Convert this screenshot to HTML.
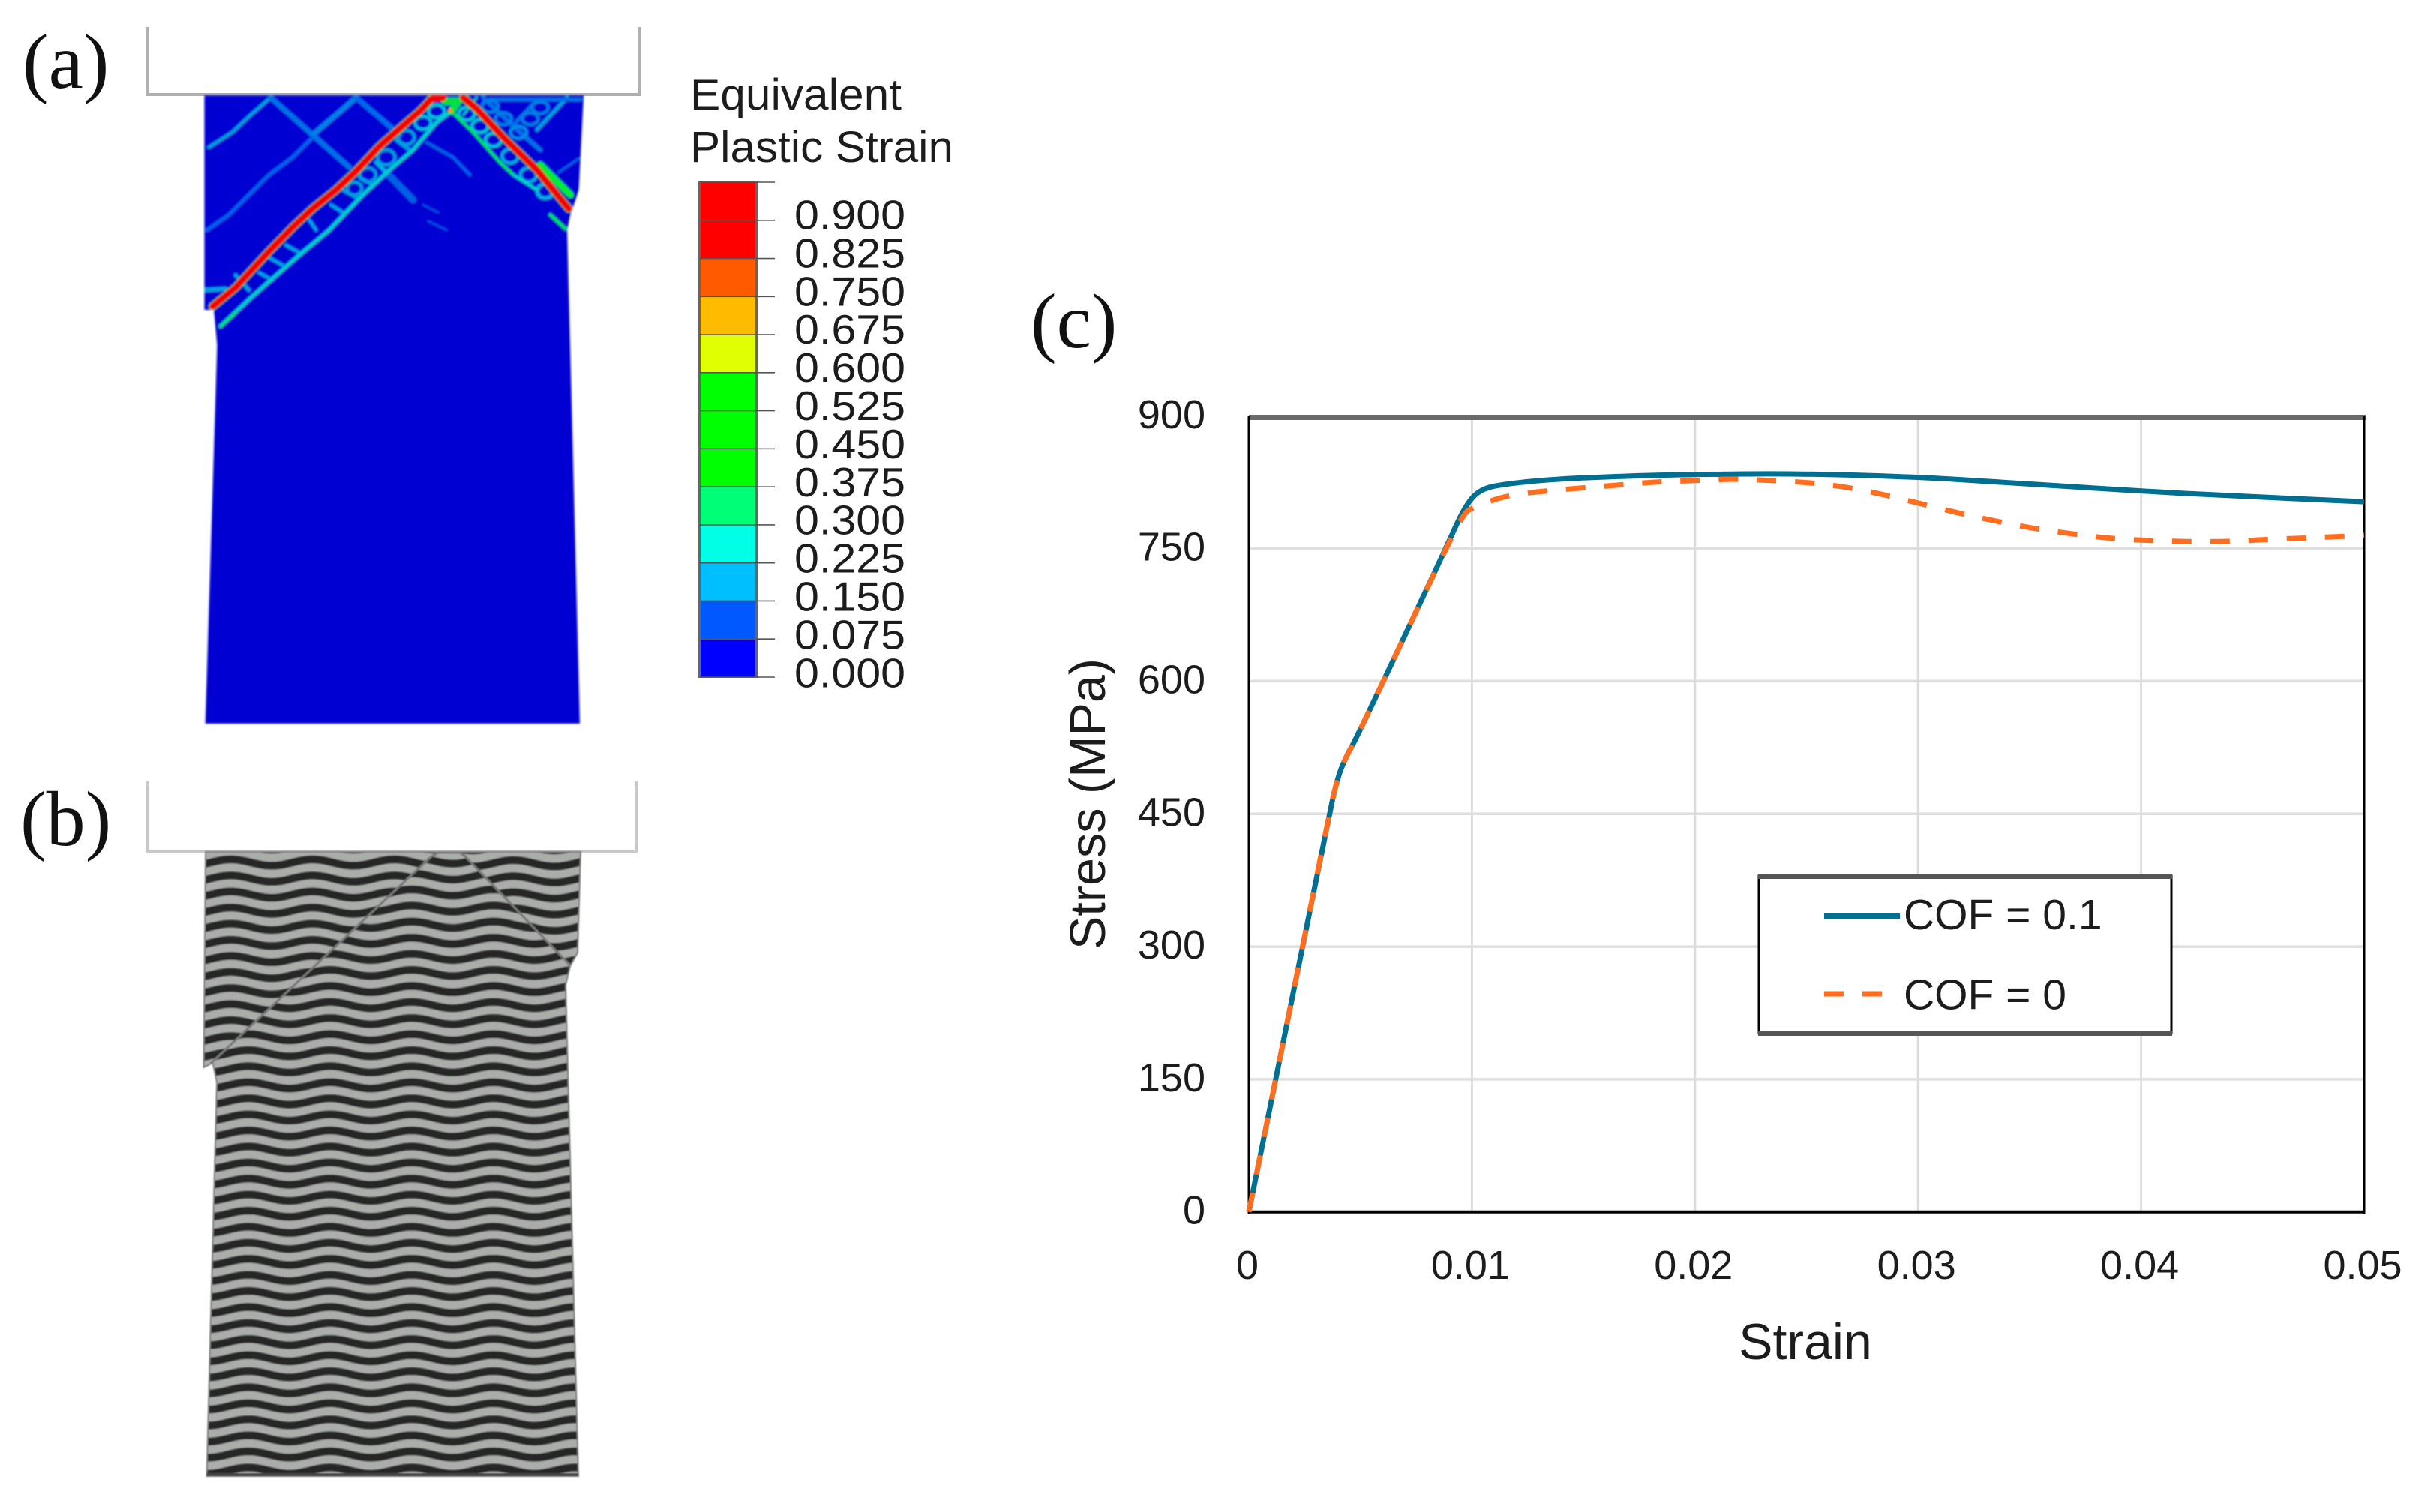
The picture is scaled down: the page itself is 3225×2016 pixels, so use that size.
<!DOCTYPE html>
<html lang="en">
<head>
<meta charset="utf-8">
<title>Equivalent plastic strain and stress-strain curves</title>
<style>
html,body{margin:0;padding:0;background:#fff;width:3225px;height:2016px;overflow:hidden}
svg{display:block}
text{font-family:"Liberation Sans",sans-serif;fill:#1c1c1c}
.panel{font-family:"Liberation Serif",serif;font-size:104px;fill:#111}
.band{fill:none;stroke-linejoin:round;stroke-linecap:round;vector-effect:non-scaling-stroke}
</style>
</head>
<body>
<svg id="figure" xmlns="http://www.w3.org/2000/svg" width="3225" height="2016" viewBox="0 0 3225 2016">
<defs>
<filter id="soft" x="-5%" y="-5%" width="110%" height="110%"><feGaussianBlur stdDeviation="1.3"/></filter>
<filter id="soft2" x="-5%" y="-5%" width="110%" height="110%"><feGaussianBlur stdDeviation="0.7"/></filter>
<clipPath id="clip-left"><polygon points="274,1137 584,1137 574,1143 280.5,1418 271.5,1423"/></clipPath>
<clipPath id="clip-right"><polygon points="613,1137 774,1137 770,1270 760,1288 620,1142"/></clipPath>
<clipPath id="clip-center"><polygon points="584,1137 613,1137 620,1142 760,1288 754,1313 771,1968 275.5,1968 289,1443 283.6,1417 280.5,1418 574,1143"/></clipPath>
<clipPath id="clip-a"><polygon points="272.4,127 778,127 771.5,253 767,267 760,287 756,307 773,965 273.6,965 289.4,460 285,413 272.4,413"/></clipPath>
</defs>

<!-- Panel (a) -->
<text class="panel" x="30" y="117">(a)</text>
<path d="M196,36V126H852V36" fill="none" stroke="#b0b0b0" stroke-width="4"/>
<g filter="url(#soft)">
<polygon points="272.4,127 778,127 771.5,253 767,267 760,287 756,307 773,965 273.6,965 289.4,460 285,413 272.4,413" fill="#0000d2"/>
<g clip-path="url(#clip-a)">
<g transform="translate(180 20) scale(.4464 .3333)">
<!-- faint bands -->
<polyline class="band" stroke="#00a0dc" stroke-width="4.5" points="220,530 290,470 345,400 400,335"/>
<polyline class="band" stroke="#0070e8" stroke-width="7" points="405,330 530,480 640,610"/>
<polyline class="band" stroke="#0080e8" stroke-width="7" points="530,480 600,400 660,330"/>
<polyline class="band" stroke="#0068ee" stroke-width="7" points="660,330 730,410 790,480"/>
<polyline class="band" stroke="#0060f0" stroke-width="5" points="215,860 280,800 400,640 470,570 530,490"/>
<polyline class="band" stroke="#0060e4" stroke-width="9" points="750,630 830,740"/>
<polyline class="band" stroke="#0050e8" stroke-width="2.5" points="860,760 905,790"/>
<polyline class="band" stroke="#0050e8" stroke-width="2.5" points="875,825 930,860"/>
<polyline class="band" stroke="#0060e8" stroke-width="4" points="870,510 950,570 1000,640"/>
<polyline class="band" stroke="#00a0e0" stroke-width="5" points="1200,460 1290,330"/>
<polyline class="band" stroke="#0070e8" stroke-width="6" points="1040,330 1150,470 1210,540"/>
<polyline class="band" stroke="#0070e8" stroke-width="5" points="1130,440 1200,340"/>
<polyline class="band" stroke="#0070e8" stroke-width="5" points="1060,338 1330,338"/>
<polyline class="band" stroke="#0060e8" stroke-width="3" points="1265,630 1325,575"/>
<polyline class="band" stroke="#00a0e0" stroke-width="6" points="205,1100 270,1095"/>
<polyline class="band" stroke="#00a0e0" stroke-width="5" points="300,1040 340,1100"/>
<!-- ladder cells -->
<polyline class="band" stroke="#00a0e8" stroke-width="4.5" points="370,1030 410,1060"/>
<polyline class="band" stroke="#00a0e8" stroke-width="4.5" points="400,970 440,1000"/>
<polyline class="band" stroke="#00a0e8" stroke-width="4.5" points="450,920 490,950"/>
<polyline class="band" stroke="#00a0e8" stroke-width="4.5" points="520,820 540,860"/>
<polyline class="band" stroke="#00a0e8" stroke-width="4.5" points="585,760 620,790"/>
<polyline class="band" stroke="#00a0e8" stroke-width="4.5" points="620,700 660,730"/>
<polyline class="band" stroke="#00a0e8" stroke-width="4.5" points="670,650 710,680"/>
<polyline class="band" stroke="#00b4e8" stroke-width="5" points="720,590 750,630"/>
<polyline class="band" stroke="#00a0e8" stroke-width="5" points="780,500 820,540"/>
<ellipse class="band" stroke="#00c0e0" stroke-width="4" cx="860" cy="432" rx="24" ry="26"/>
<ellipse class="band" stroke="#00c8d8" stroke-width="4" cx="900" cy="385" rx="24" ry="26"/>
<ellipse class="band" stroke="#00c8d8" stroke-width="4" cx="990" cy="395" rx="24" ry="26"/>
<ellipse class="band" stroke="#00c8d8" stroke-width="4" cx="1030" cy="445" rx="24" ry="26"/>
<ellipse class="band" stroke="#00c8d8" stroke-width="4" cx="1070" cy="500" rx="24" ry="26"/>
<ellipse class="band" stroke="#00b0e0" stroke-width="4" cx="1120" cy="565" rx="24" ry="28"/>
<ellipse class="band" stroke="#00b0e0" stroke-width="4" cx="1175" cy="640" rx="24" ry="28"/>
<ellipse class="band" stroke="#00b0e0" stroke-width="5" cx="1225" cy="705" rx="24" ry="28"/>
<ellipse class="band" stroke="#0080e8" stroke-width="4" cx="1060" cy="365" rx="24" ry="24"/>
<ellipse class="band" stroke="#0080e8" stroke-width="4" cx="1100" cy="415" rx="24" ry="24"/>
<ellipse class="band" stroke="#0080e8" stroke-width="4" cx="1180" cy="415" rx="24" ry="24"/>
<ellipse class="band" stroke="#0080e8" stroke-width="4" cx="1210" cy="370" rx="24" ry="24"/>
<ellipse class="band" stroke="#0090e8" stroke-width="4" cx="1145" cy="470" rx="24" ry="24"/>
<ellipse class="band" stroke="#00a0e0" stroke-width="4" cx="810" cy="490" rx="24" ry="28"/>
<ellipse class="band" stroke="#00a0e0" stroke-width="4" cx="750" cy="570" rx="26" ry="30"/>
<ellipse class="band" stroke="#00a0e0" stroke-width="4" cx="695" cy="640" rx="24" ry="28"/>
<ellipse class="band" stroke="#00a0e0" stroke-width="4" cx="655" cy="695" rx="22" ry="26"/>
<!-- parallel secondary bands -->
<polyline class="band" stroke="#00cfd0" stroke-width="5" points="255,1245 350,1125 490,960 580,860 680,720 760,620 830,540 900,430 945,385"/>
<polyline class="band" stroke="#00e080" stroke-width="4.5" points="255,1245 300,1190"/>
<polyline class="band" stroke="#00e650" stroke-width="4" points="945,385 1010,470 1090,590 1130,640"/>
<polyline class="band" stroke="#00d8c0" stroke-width="4" points="1130,640 1200,700"/>
<polyline class="band" stroke="#00e640" stroke-width="4.5" points="1240,800 1285,855"/>
<polyline class="band" stroke="#00ee30" stroke-width="9" points="1210,600 1300,720"/>
<polyline class="band" stroke="#00e040" stroke-width="10" points="925,345 965,345 945,385"/>
<polyline class="band" stroke="#00c8c8" stroke-width="3" points="1020,330 980,400"/>
<!-- main shear bands -->
<polyline class="band" stroke="#38c048" stroke-width="11" points="232,1165 300,1090 400,945 470,850 530,775 600,700 660,625 730,525 790,455 850,385 885,335"/>
<polyline class="band" stroke="#38c048" stroke-width="11" points="980,330 1020,375 1100,490 1200,620 1295,775"/>
<polyline class="band" stroke="#f40000" stroke-width="9" points="232,1165 300,1090 400,945 470,850 530,775 600,700 660,625 730,525 790,455 850,385 885,335 920,330"/>
<polyline class="band" stroke="#f40000" stroke-width="9" points="980,330 1020,375 1100,490 1200,620 1295,775"/>
<polyline class="band" stroke="#ff9000" stroke-width="5" points="940,380 942,384"/>
</g>
</g>
</g>

<!-- Colorbar -->
<text x="920" y="146" font-size="58" textLength="282" lengthAdjust="spacingAndGlyphs">Equivalent</text>
<text x="920" y="216" font-size="58" textLength="351" lengthAdjust="spacingAndGlyphs">Plastic Strain</text>
<g id="colorbar"></g>

<!-- Panel (b) -->
<text class="panel" x="27" y="1127">(b)</text>
<path d="M197,1042V1135H848V1042" fill="none" stroke="#c8c8c8" stroke-width="4"/>
<g filter="url(#soft2)">
<polygon points="274,1135 774,1135 770,1270 760,1288 754,1313 771,1968 275.5,1968 289,1443 283.6,1417 271.5,1423" fill="#aaada9"/>
<g clip-path="url(#clip-left)"><path id="stripes-left" fill="none"/></g>
<g clip-path="url(#clip-right)"><path id="stripes-right" fill="none"/></g>
<g clip-path="url(#clip-center)"><path id="stripes-center" fill="none"/></g>
<polyline points="280.5,1418 574,1143 584,1137 613,1137 620,1142 760,1287" fill="none" stroke="#777" stroke-width="3"/>
<polygon points="274,1136 774,1136 770,1270 760,1288 754,1313 771,1968 275.5,1968 289,1443 283.6,1417 271.5,1423" fill="none" stroke="#808080" stroke-width="2"/>
<rect x="275.5" y="1964" width="495.5" height="4" fill="#444"/>
</g>

<!-- Panel (c) -->
<text class="panel" x="1374" y="463">(c)</text>
<g id="chart"></g>
</svg>

<script>
// Chart data
var strainTicks = [0, 0.01, 0.02, 0.03, 0.04, 0.05];
var stressTicks = [0, 150, 300, 450, 600, 750, 900];
var cof01Strain = [0, 0.00029, 0.00354, 0.00397, 0.0044, 0.00476, 0.00879, 0.00948, 0.00999, 0.0105, 0.0112, 0.01325, 0.01667, 0.01994, 0.0247, 0.03, 0.03355, 0.04, 0.0442, 0.05];
var cof01Stress = [0, 36, 442, 491, 517, 532, 748, 787, 808, 817.6, 822, 828, 832, 834, 835, 831, 825.5, 815, 809.5, 803];
var cof0Strain = [0, 0.00029, 0.00354, 0.00397, 0.0044, 0.00476, 0.00879, 0.00965, 0.01, 0.01143, 0.01314, 0.01488, 0.0166, 0.0183, 0.02, 0.0218, 0.0235, 0.02525, 0.02697, 0.02865, 0.0303, 0.032, 0.0337, 0.03537, 0.0371, 0.0388, 0.04053, 0.04226, 0.044, 0.0457, 0.0474, 0.0492, 0.05];
var cof0Stress = [0, 36, 442, 491, 517, 532, 748, 790, 796, 809.5, 815, 818.5, 822, 825.6, 827, 829, 827, 824.5, 819, 810, 799.7, 789, 780, 772, 766, 761, 759, 757.6, 758, 760.5, 762, 764, 765];
var legendLabels = ['COF = 0.1', 'COF = 0'];
// Colorbar data
var colorbarLabels = ['0.900', '0.825', '0.750', '0.675', '0.600', '0.525', '0.450', '0.375', '0.300', '0.225', '0.150', '0.075', '0.000'];
var colorbarColors = ['#ff0000', '#ff0000', '#ff5a00', '#ffbb00', '#e0ff00', '#00ff00', '#00ff00', '#00ff00', '#00ff77', '#00ffe6', '#00bfff', '#0059ff', '#0000ff'];

var NS = 'http://www.w3.org/2000/svg';
function make(parent, tag, attrs, txt) {
  var el = document.createElementNS(NS, tag);
  for (var k in attrs) el.setAttribute(k, attrs[k]);
  if (txt !== undefined) el.textContent = txt;
  parent.appendChild(el);
  return el;
}

// Axis functions
var plot = {left: 1665, right: 3152, top: 554.8, bottom: 1615.7};
function xScale(v) { return plot.left + (v - strainTicks[0]) / (strainTicks[strainTicks.length - 1] - strainTicks[0]) * (plot.right - plot.left); }
function yScale(v) { return plot.bottom - (v - stressTicks[0]) / (stressTicks[stressTicks.length - 1] - stressTicks[0]) * (plot.bottom - plot.top); }
// Smooth curve through the midpoints of the data polyline
function linePath(xs, ys) {
  var px = xs.map(xScale), py = ys.map(yScale), n = px.length;
  var d = 'M' + px[0].toFixed(1) + ' ' + py[0].toFixed(1);
  for (var j = 1; j < n - 1; j++) {
    var mx = (px[j] + px[j + 1]) / 2, my = (py[j] + py[j + 1]) / 2;
    d += 'Q' + px[j].toFixed(1) + ' ' + py[j].toFixed(1) + ' ' + mx.toFixed(1) + ' ' + my.toFixed(1);
  }
  return d + 'L' + px[n - 1].toFixed(1) + ' ' + py[n - 1].toFixed(1);
}

var chart = document.getElementById('chart');
var el, i;

// Gridlines
stressTicks.forEach(function (t, idx) {
  if (idx === 0 || idx === stressTicks.length - 1) return;
  var g = make(chart, 'line', {x1: plot.left, x2: plot.right, y1: yScale(t), y2: yScale(t), stroke: '#dedede', 'stroke-width': 3.5});
  
  
});
strainTicks.forEach(function (t, idx) {
  if (idx === 0 || idx === strainTicks.length - 1) return;
  var g = make(chart, 'line', {x1: xScale(t), x2: xScale(t), y1: plot.top, y2: plot.bottom, stroke: '#dcdcdc', 'stroke-width': 3});
  
  
});

// Frame
el = make(chart, 'rect', {x: plot.left, y: 553, width: plot.right - plot.left + 2, height: 7, fill: '#6b6b6b'});


el = make(chart, 'line', {x1: plot.left, x2: plot.left, y1: 555, y2: 1618, stroke: '#000', 'stroke-width': 3});


el = make(chart, 'line', {x1: plot.right, x2: plot.right, y1: 555, y2: 1618, stroke: '#000', 'stroke-width': 3});


el = make(chart, 'line', {x1: plot.left, x2: plot.right, y1: plot.bottom, y2: plot.bottom, stroke: '#000', 'stroke-width': 4});



// Tick labels
stressTicks.forEach(function (t) {
  var lb = make(chart, 'text', {x: 1607, y: yScale(t) + 16, 'font-size': 54, 'text-anchor': 'end'}, String(t));
  
  
});
strainTicks.forEach(function (t) {
  var lb = make(chart, 'text', {x: xScale(t) - 2, y: 1705, 'font-size': 54, 'text-anchor': 'middle'}, String(t));
  
  
});

// Axis titles
el = make(chart, 'text', {x: 2407, y: 1812, 'font-size': 68, 'text-anchor': 'middle'}, 'Strain');


el = make(chart, 'text', {x: 0, y: 0, 'font-size': 66.5, 'text-anchor': 'middle', transform: 'translate(1473 1072) rotate(-90)'}, 'Stress (MPa)');



// Series
el = make(chart, 'path', {d: linePath(cof01Strain, cof01Stress), fill: 'none', stroke: '#006f91', 'stroke-width': 7, 'stroke-linejoin': 'round'});


el = make(chart, 'path', {d: linePath(cof0Strain, cof0Stress), fill: 'none', stroke: '#ff6d1f', 'stroke-width': 7, 'stroke-dasharray': '26 25', 'stroke-linejoin': 'round'});



// Legend
var legend = make(chart, 'g', {});


el = make(legend, 'rect', {x: 2345, y: 1168, width: 550, height: 209, fill: '#fff', stroke: '#000', 'stroke-width': 3});


el = make(legend, 'rect', {x: 2344, y: 1166, width: 552, height: 6, fill: '#555'});


el = make(legend, 'rect', {x: 2344, y: 1375, width: 552, height: 6, fill: '#555'});


el = make(legend, 'line', {x1: 2432, x2: 2533, y1: 1221.5, y2: 1221.5, stroke: '#006f91', 'stroke-width': 7});


el = make(legend, 'line', {x1: 2432, x2: 2510, y1: 1325, y2: 1325, stroke: '#ff6d1f', 'stroke-width': 7, 'stroke-dasharray': '26 25'});


el = make(legend, 'text', {x: 2538, y: 1239, 'font-size': 57}, legendLabels[0]);


el = make(legend, 'text', {x: 2538, y: 1345.5, 'font-size': 57}, legendLabels[1]);



// Colorbar
var cb = document.getElementById('colorbar');
var cbTop = 243, cbStep = 660 / colorbarColors.length;
el = make(cb, 'rect', {x: 931, y: cbTop - 1, width: 79, height: 662, fill: '#666'});


colorbarColors.forEach(function (c, idx) {
  var s = make(cb, 'rect', {x: 934, y: cbTop + idx * cbStep, width: 73, height: cbStep, fill: c});
  
  
});
for (i = 0; i <= colorbarColors.length; i++) {
  el = make(cb, 'line', {x1: 933, x2: 1033, y1: cbTop + i * cbStep, y2: cbTop + i * cbStep, stroke: '#555', 'stroke-width': 1.6});
  
  
}
colorbarLabels.forEach(function (t, idx) {
  var lb = make(cb, 'text', {x: 1059, y: 286 + idx * 50.9 + 19.5, 'font-size': 55, textLength: 148, lengthAdjust: 'spacingAndGlyphs'}, t);
  
  
});

// Specimen (b) stripe illustration: wavy material layers
function stripes(id, ax, ay) {
  var period = 109, pitch = 21.4, amp = 4.2, d = '';
  for (var n = -60; n <= 60; n++) {
    var y0 = ay + n * pitch;
    if (y0 < 1115 || y0 > 1985) continue;
    for (var x = 250; x <= 800; x += 4) {
      var yy = y0 + amp * (1 - Math.cos(2 * Math.PI * (x - ax) / period));
      d += (x === 250 ? 'M' : 'L') + x + ' ' + yy.toFixed(1);
    }
  }
  var p = document.getElementById(id);
  p.setAttribute('d', d);
  p.setAttribute('stroke', '#262827');
  p.setAttribute('stroke-width', '9.5');
  var halo = p.cloneNode();
  halo.removeAttribute('id');
  halo.setAttribute('stroke', '#757876');
  halo.setAttribute('stroke-width', '11.5');
  
  
  p.parentNode.insertBefore(halo, p);
}
stripes('stripes-left', 416.6, 1146);
stripes('stripes-right', 684.5, 1147);
stripes('stripes-center', 549, 1935);
</script>
</body>
</html>
